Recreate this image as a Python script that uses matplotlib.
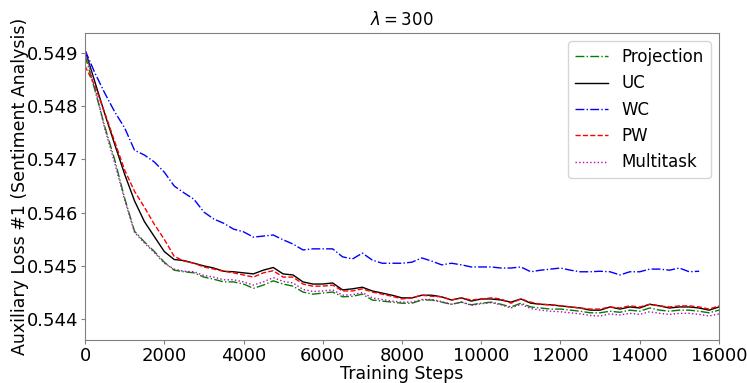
import matplotlib
matplotlib.use('Agg')
import matplotlib.pyplot as plt
import numpy as np

# Pasos de entrenamiento (cada 250)
steps = np.arange(0, 16001, 250)

projection = [0.54895, 0.54830, 0.54761, 0.54699, 0.54627, 0.54565, 0.54545, 0.54527, 0.54507, 0.54492,
              0.54489, 0.54487, 0.54479, 0.54475, 0.54470, 0.54470, 0.54466, 0.54458, 0.54464, 0.54472,
              0.54466, 0.54462, 0.54451, 0.54447, 0.54449, 0.54451, 0.54442, 0.54443, 0.54447, 0.54436,
              0.54434, 0.54432, 0.54430, 0.54430, 0.54436, 0.54436, 0.54432, 0.54428, 0.54432, 0.54427,
              0.54430, 0.54432, 0.54428, 0.54423, 0.54430, 0.54423, 0.54421, 0.54419, 0.54419, 0.54417,
              0.54415, 0.54412, 0.54412, 0.54415, 0.54413, 0.54417, 0.54415, 0.54421, 0.54417, 0.54415,
              0.54417, 0.54417, 0.54415, 0.54412, 0.54417]

uc = [0.54905, 0.54845, 0.54785, 0.54728, 0.54672, 0.54622, 0.54583, 0.54555, 0.54527, 0.54512,
      0.54510, 0.54505, 0.54500, 0.54496, 0.54490, 0.54489, 0.54487, 0.54485, 0.54492, 0.54497,
      0.54485, 0.54483, 0.54470, 0.54466, 0.54466, 0.54468, 0.54455, 0.54457, 0.54460, 0.54453,
      0.54449, 0.54445, 0.54440, 0.54440, 0.54445, 0.54445, 0.54442, 0.54436, 0.54440, 0.54434,
      0.54438, 0.54438, 0.54436, 0.54432, 0.54438, 0.54430, 0.54428, 0.54427, 0.54425, 0.54423,
      0.54421, 0.54417, 0.54417, 0.54423, 0.54419, 0.54423, 0.54421, 0.54428, 0.54425, 0.54421,
      0.54423, 0.54423, 0.54421, 0.54417, 0.54423]

wc = [0.54905, 0.54862, 0.54824, 0.54789, 0.54759, 0.54717, 0.54708, 0.54695, 0.54676, 0.54650,
      0.54637, 0.54625, 0.54601, 0.54588, 0.54580, 0.54569, 0.54564, 0.54554, 0.54556, 0.54558,
      0.54549, 0.54541, 0.54530, 0.54532, 0.54532, 0.54532, 0.54517, 0.54513, 0.54524, 0.54511,
      0.54505, 0.54505, 0.54505, 0.54507, 0.54515, 0.54509, 0.54502, 0.54505, 0.54502, 0.54498,
      0.54498, 0.54498, 0.54496, 0.54496, 0.54498, 0.54489, 0.54492, 0.54494, 0.54496, 0.54492,
      0.54489, 0.54489, 0.54490, 0.54489, 0.54483, 0.54489, 0.54489, 0.54494, 0.54494, 0.54492,
      0.54496, 0.54489, 0.54490]

pw = [0.54875, 0.54838, 0.54787, 0.54733, 0.54680, 0.54640, 0.54610, 0.54578, 0.54550, 0.54518,
      0.54509, 0.54505, 0.54498, 0.54494, 0.54490, 0.54487, 0.54483, 0.54479, 0.54487, 0.54491,
      0.54479, 0.54479, 0.54466, 0.54462, 0.54462, 0.54464, 0.54453, 0.54453, 0.54457, 0.54451,
      0.54447, 0.54443, 0.54438, 0.54440, 0.54445, 0.54443, 0.54442, 0.54436, 0.54440, 0.54436,
      0.54438, 0.54440, 0.54438, 0.54430, 0.54438, 0.54432, 0.54428, 0.54427, 0.54425, 0.54423,
      0.54421, 0.54419, 0.54419, 0.54423, 0.54421, 0.54425, 0.54423, 0.54428, 0.54425, 0.54423,
      0.54425, 0.54425, 0.54423, 0.54419, 0.54425]

multitask = [0.54905, 0.54835, 0.54757, 0.54693, 0.54624, 0.54563, 0.54543, 0.54525, 0.54505, 0.54494,
             0.54490, 0.54489, 0.54482, 0.54479, 0.54474, 0.54474, 0.54470, 0.54464, 0.54470, 0.54478,
             0.54471, 0.54468, 0.54456, 0.54452, 0.54453, 0.54455, 0.54445, 0.54446, 0.54450, 0.54440,
             0.54437, 0.54434, 0.54432, 0.54432, 0.54437, 0.54437, 0.54433, 0.54428, 0.54432, 0.54426,
             0.54429, 0.54431, 0.54427, 0.54421, 0.54428, 0.54420, 0.54417, 0.54415, 0.54414, 0.54412,
             0.54410, 0.54407, 0.54406, 0.54410, 0.54408, 0.54411, 0.54409, 0.54414, 0.54411, 0.54409,
             0.54411, 0.54411, 0.54409, 0.54406, 0.54410]

fig = plt.figure(figsize=(7.47, 3.83), dpi=100)
ax = fig.add_axes([0.1138, 0.1123, 0.8487, 0.8015])

ax.plot(steps[:len(projection)], projection, color='g', linestyle='-.', linewidth=1, label='Projection')
ax.plot(steps[:len(uc)], uc, color='k', linestyle='-', linewidth=1, label='UC')
ax.plot(steps[:len(wc)], wc, color='b', linestyle='-.', linewidth=1, label='WC')
ax.plot(steps[:len(pw)], pw, color='r', linestyle='--', linewidth=1, label='PW')
ax.plot(steps[:len(multitask)], multitask, color='m', linestyle=':', linewidth=1, label='Multitask')

ax.set_xlim(0, 16000)
ax.set_ylim(0.54361, 0.54937)
ax.set_yticks([0.544, 0.545, 0.546, 0.547, 0.548, 0.549])
ax.ticklabel_format(axis='y', useOffset=False)
ax.set_xlabel('Training Steps', fontsize=12.5, labelpad=0)
ax.set_ylabel('Auxiliary Loss #1 (Sentiment Analysis)', fontsize=12.5, labelpad=-2)
ax.set_title(r'$\lambda = 300$', fontsize=12)
for s in ax.spines.values():
    s.set_color('0.5')
ax.tick_params(color='0.5', labelsize=13, length=3, pad=2)
ax.legend(loc='upper right', fontsize=12)

fig.savefig('out.png', dpi=100)
